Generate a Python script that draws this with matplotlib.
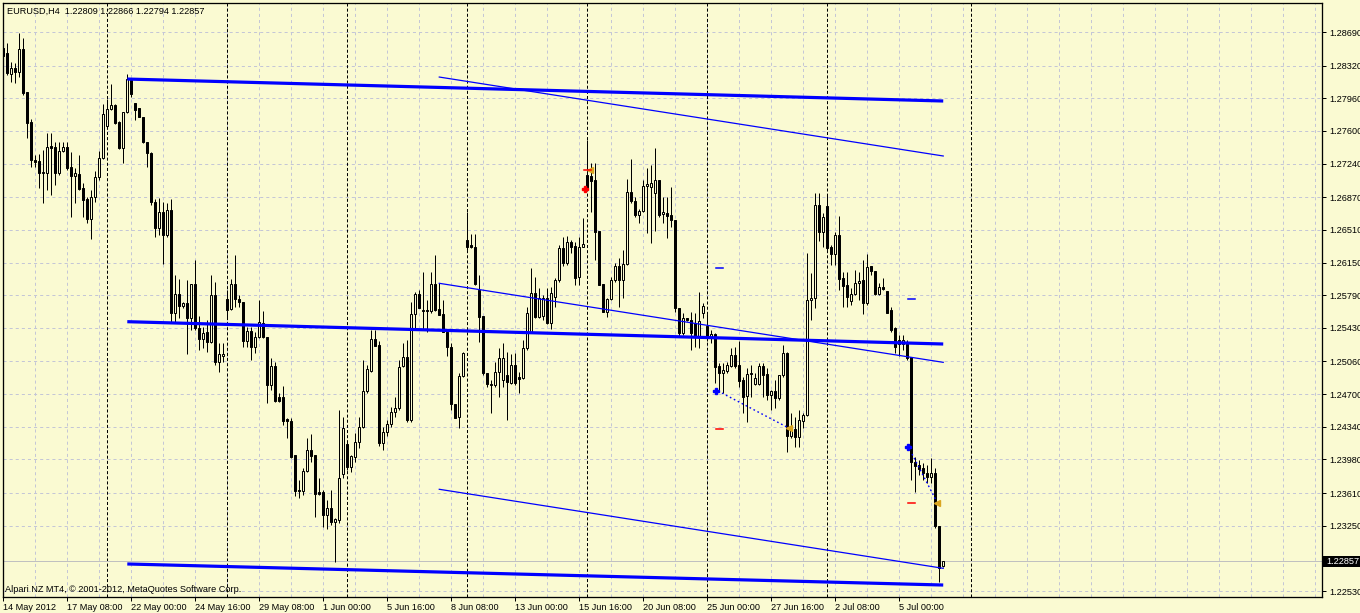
import matplotlib
matplotlib.use("Agg")
import matplotlib.pyplot as plt
import numpy as np
from matplotlib.patches import Rectangle

plt.rcParams['lines.scale_dashes'] = False
plt.rcParams['font.family'] = ['Liberation Sans', 'DejaVu Sans']

# ---------------- data (EURUSD H4) ----------------
opens = [
    1.2851, 1.2846, 1.2823, 1.2829, 1.2825, 1.2850, 1.2803, 1.2770, 1.2728, 1.2727,
    1.2714, 1.2714, 1.2743, 1.2742, 1.2714, 1.2738, 1.2742, 1.2720, 1.2710, 1.2713,
    1.2697, 1.2685, 1.2663, 1.2687, 1.2709, 1.2730, 1.2766, 1.2784, 1.2789, 1.2770,
    1.2741, 1.2781, 1.2816, 1.2791, 1.2785, 1.2775, 1.2748, 1.2736, 1.2682, 1.2653,
    1.2671, 1.2645, 1.2673, 1.2559, 1.2580, 1.2567, 1.2570, 1.2554, 1.2591, 1.2543,
    1.2531, 1.2538, 1.2527, 1.2579, 1.2505, 1.2512, 1.2575, 1.2564, 1.2591, 1.2575,
    1.2572, 1.2528, 1.2539, 1.2522, 1.2533, 1.2548, 1.2533, 1.2480, 1.2501, 1.2467,
    1.2467, 1.2443, 1.2440, 1.2403, 1.2364, 1.2363, 1.2385, 1.2408, 1.2403, 1.2362,
    1.2362, 1.2337, 1.2344, 1.2329, 1.2331, 1.2382, 1.2415, 1.2390, 1.2401, 1.2417,
    1.2434, 1.2473, 1.2495, 1.2531, 1.2524, 1.2416, 1.2428, 1.2437, 1.2450, 1.2455,
    1.2501, 1.2511, 1.2441, 1.2558, 1.2580, 1.2562, 1.2563, 1.2562, 1.2591, 1.2564,
    1.2558, 1.2538, 1.2522, 1.2459, 1.2445, 1.2490, 1.2640, 1.2634, 1.2632, 1.2585,
    1.2556, 1.2493, 1.2480, 1.2480, 1.2494, 1.2485, 1.2491, 1.2482, 1.2502, 1.2489,
    1.2488, 1.2521, 1.2538, 1.2581, 1.2555, 1.2556, 1.2576, 1.2548, 1.2577, 1.2596,
    1.2631, 1.2614, 1.2638, 1.2633, 1.2599, 1.2632, 1.2711, 1.2710, 1.2706, 1.2650,
    1.2591, 1.2560, 1.2575, 1.2596, 1.2611, 1.2596, 1.2613, 1.2693, 1.2683, 1.2667,
    1.2672, 1.2699, 1.2698, 1.2692, 1.2706, 1.2668, 1.2670, 1.2667, 1.2662, 1.2565,
    1.2537, 1.2554, 1.2552, 1.2548, 1.2533, 1.2559, 1.2545, 1.2532, 1.2536, 1.2501,
    1.2493, 1.2495, 1.2501, 1.2513, 1.2502, 1.2486, 1.2468, 1.2492, 1.2481, 1.2481,
    1.2501, 1.2492, 1.2469, 1.2473, 1.2466, 1.2491, 1.2515, 1.2424, 1.2431, 1.2423,
    1.2440, 1.2447, 1.2574, 1.2576, 1.2678, 1.2649, 1.2677, 1.2632, 1.2624, 1.2645,
    1.2598, 1.2590, 1.2573, 1.2580, 1.2592, 1.2596, 1.2570, 1.2611, 1.2606, 1.2580,
    1.2588, 1.2584, 1.2563, 1.2543, 1.2530, 1.2525, 1.2526, 1.2511, 1.2395, 1.2392,
    1.2389, 1.2383, 1.2379, 1.2383, 1.2325, 1.22809]

highs = [
    1.2856, 1.2857, 1.2836, 1.2835, 1.2868, 1.2862, 1.2803, 1.2773, 1.2734, 1.2735,
    1.2739, 1.2758, 1.2758, 1.2748, 1.2748, 1.2748, 1.2748, 1.2737, 1.2719, 1.2734,
    1.2703, 1.2687, 1.2695, 1.2716, 1.2738, 1.2790, 1.2795, 1.2812, 1.2790, 1.2771,
    1.2781, 1.2823, 1.2818, 1.2791, 1.2785, 1.2775, 1.2748, 1.2737, 1.2685, 1.2686,
    1.2682, 1.2681, 1.2685, 1.2601, 1.2597, 1.2572, 1.2596, 1.2591, 1.2618, 1.2556,
    1.2544, 1.2552, 1.2601, 1.2594, 1.2526, 1.2526, 1.2585, 1.2597, 1.2623, 1.2579,
    1.2572, 1.2544, 1.2544, 1.2538, 1.2574, 1.2562, 1.2533, 1.2510, 1.2505, 1.2471,
    1.2479, 1.2444, 1.2444, 1.2403, 1.2375, 1.2389, 1.2422, 1.2426, 1.2403, 1.2377,
    1.2364, 1.2353, 1.2364, 1.2333, 1.2453, 1.2445, 1.2419, 1.2403, 1.2427, 1.2445,
    1.2508, 1.2502, 1.2541, 1.2541, 1.2528, 1.2434, 1.2441, 1.2456, 1.2467, 1.2508,
    1.2526, 1.2530, 1.2572, 1.2582, 1.2585, 1.2605, 1.2574, 1.2605, 1.2623, 1.2592,
    1.2574, 1.2538, 1.2526, 1.2459, 1.2493, 1.2516, 1.2671, 1.2646, 1.2646, 1.2601,
    1.2556, 1.2493, 1.2485, 1.2505, 1.2521, 1.2526, 1.2516, 1.2514, 1.2515, 1.2494,
    1.2530, 1.2566, 1.2609, 1.2599, 1.2587, 1.2579, 1.2587, 1.2588, 1.2598, 1.2634,
    1.2643, 1.2644, 1.2640, 1.2638, 1.2643, 1.2664, 1.2750, 1.2725, 1.2725, 1.2650,
    1.2591, 1.2576, 1.2599, 1.2614, 1.2620, 1.2629, 1.2707, 1.2729, 1.2687, 1.2674,
    1.2706, 1.2719, 1.2722, 1.2741, 1.2706, 1.2687, 1.2687, 1.2698, 1.2662, 1.2565,
    1.2559, 1.2554, 1.2560, 1.2559, 1.2582, 1.2570, 1.2558, 1.2541, 1.2537, 1.2504,
    1.2504, 1.2505, 1.2521, 1.2522, 1.2528, 1.2489, 1.2499, 1.2502, 1.2493, 1.2504,
    1.2504, 1.2499, 1.2474, 1.2485, 1.2491, 1.2524, 1.2516, 1.2449, 1.2445, 1.2452,
    1.2449, 1.2625, 1.2603, 1.2692, 1.2692, 1.2670, 1.2689, 1.2634, 1.2649, 1.2666,
    1.2605, 1.2605, 1.2587, 1.2607, 1.2605, 1.2618, 1.2624, 1.2611, 1.2606, 1.2592,
    1.2598, 1.2584, 1.2566, 1.2544, 1.2535, 1.2535, 1.2530, 1.2511, 1.2401, 1.2397,
    1.2394, 1.2392, 1.2400, 1.2389, 1.2325, 1.22866]

lows = [
    1.2838, 1.2822, 1.2814, 1.2813, 1.2819, 1.2800, 1.2752, 1.2720, 1.2720, 1.2697,
    1.2681, 1.2695, 1.2689, 1.2700, 1.2711, 1.2737, 1.2717, 1.2665, 1.2681, 1.2695,
    1.2665, 1.2659, 1.2641, 1.2682, 1.2706, 1.2729, 1.2763, 1.2783, 1.2768, 1.2740,
    1.2725, 1.2780, 1.2797, 1.2772, 1.2775, 1.2747, 1.2720, 1.2678, 1.2643, 1.2645,
    1.2613, 1.2643, 1.2548, 1.2548, 1.2554, 1.2565, 1.2514, 1.2541, 1.2541, 1.2519,
    1.2521, 1.2516, 1.2526, 1.2502, 1.2494, 1.2505, 1.2555, 1.2563, 1.2566, 1.2566,
    1.2522, 1.2522, 1.2508, 1.2515, 1.2532, 1.2532, 1.2460, 1.2474, 1.2461, 1.2461,
    1.2436, 1.2422, 1.2400, 1.2358, 1.2355, 1.2359, 1.2384, 1.2395, 1.2335, 1.2359,
    1.2323, 1.2321, 1.2326, 1.2285, 1.2328, 1.2377, 1.2386, 1.2384, 1.2395, 1.2411,
    1.2433, 1.2471, 1.2494, 1.2523, 1.2413, 1.2408, 1.2424, 1.2434, 1.2445, 1.2452,
    1.2500, 1.2439, 1.2439, 1.2542, 1.2565, 1.2541, 1.2538, 1.2559, 1.2562, 1.2557,
    1.2538, 1.2512, 1.2452, 1.2444, 1.2433, 1.2489, 1.2629, 1.2631, 1.2590, 1.2527,
    1.2491, 1.2478, 1.2449, 1.2478, 1.2467, 1.2478, 1.2441, 1.2481, 1.2480, 1.2471,
    1.2487, 1.2519, 1.2537, 1.2554, 1.2554, 1.2552, 1.2547, 1.2542, 1.2566, 1.2594,
    1.2611, 1.2612, 1.2625, 1.2590, 1.2590, 1.2632, 1.2695, 1.2671, 1.2618, 1.2590,
    1.2560, 1.2555, 1.2574, 1.2594, 1.2566, 1.2576, 1.2612, 1.2681, 1.2665, 1.2659,
    1.2671, 1.2647, 1.2636, 1.2650, 1.2665, 1.2659, 1.2642, 1.2654, 1.2560, 1.2533,
    1.2535, 1.2551, 1.2519, 1.2522, 1.2521, 1.2554, 1.2528, 1.2526, 1.2482, 1.2474,
    1.2471, 1.2493, 1.2500, 1.2499, 1.2478, 1.2449, 1.2439, 1.2467, 1.2480, 1.2480,
    1.2467, 1.2463, 1.2452, 1.2455, 1.2463, 1.2489, 1.2406, 1.2422, 1.2412, 1.2412,
    1.2433, 1.2446, 1.2552, 1.2565, 1.2639, 1.2632, 1.2629, 1.2612, 1.2612, 1.2585,
    1.2566, 1.2566, 1.2568, 1.2579, 1.2574, 1.2558, 1.2568, 1.2601, 1.2579, 1.2579,
    1.2585, 1.2559, 1.2538, 1.2515, 1.2512, 1.2519, 1.2508, 1.2375, 1.2362, 1.2381,
    1.2375, 1.2372, 1.2372, 1.2322, 1.2263, 1.22794]

closes = [
    1.2843, 1.2824, 1.2829, 1.2825, 1.2850, 1.2802, 1.2769, 1.2728, 1.2726, 1.2714,
    1.2715, 1.2742, 1.2741, 1.2714, 1.2738, 1.2742, 1.2719, 1.2710, 1.2714, 1.2696,
    1.2684, 1.2663, 1.2687, 1.2709, 1.2730, 1.2779, 1.2784, 1.2789, 1.2769, 1.2741,
    1.2781, 1.2817, 1.2801, 1.2783, 1.2775, 1.2748, 1.2736, 1.2682, 1.2653, 1.2671,
    1.2645, 1.2673, 1.2559, 1.2580, 1.2567, 1.2570, 1.2554, 1.2591, 1.2543, 1.2531,
    1.2537, 1.2527, 1.2579, 1.2505, 1.2514, 1.2514, 1.2563, 1.2591, 1.2575, 1.2572,
    1.2528, 1.2539, 1.2522, 1.2533, 1.2549, 1.2533, 1.2480, 1.2501, 1.2462, 1.2462,
    1.2440, 1.2440, 1.2401, 1.2363, 1.2363, 1.2385, 1.2408, 1.2402, 1.2360, 1.2360,
    1.2337, 1.2344, 1.2329, 1.2332, 1.2377, 1.2433, 1.2390, 1.2402, 1.2417, 1.2434,
    1.2473, 1.2498, 1.2531, 1.2523, 1.2416, 1.2428, 1.2437, 1.2450, 1.2455, 1.2500,
    1.2511, 1.2441, 1.2558, 1.2580, 1.2565, 1.2563, 1.2562, 1.2591, 1.2563, 1.2557,
    1.2538, 1.2522, 1.2459, 1.2444, 1.2490, 1.2515, 1.2632, 1.2632, 1.2591, 1.2555,
    1.2493, 1.2481, 1.2481, 1.2494, 1.2510, 1.2510, 1.2483, 1.2502, 1.2482, 1.2487,
    1.2521, 1.2559, 1.2581, 1.2555, 1.2576, 1.2576, 1.2548, 1.2581, 1.2596, 1.2631,
    1.2614, 1.2638, 1.2632, 1.2598, 1.2632, 1.2635, 1.2697, 1.2705, 1.2649, 1.2590,
    1.2560, 1.2575, 1.2596, 1.2611, 1.2596, 1.2613, 1.2693, 1.2683, 1.2667, 1.2672,
    1.2699, 1.2701, 1.2703, 1.2706, 1.2667, 1.2671, 1.2666, 1.2662, 1.2565, 1.2537,
    1.2554, 1.2552, 1.2537, 1.2533, 1.2551, 1.2567, 1.2532, 1.2536, 1.2500, 1.2493,
    1.2497, 1.2502, 1.2513, 1.2501, 1.2484, 1.2467, 1.2492, 1.2493, 1.2488, 1.2501,
    1.2491, 1.2469, 1.2473, 1.2466, 1.2491, 1.2515, 1.2424, 1.2434, 1.2423, 1.2441,
    1.2447, 1.2574, 1.2576, 1.2678, 1.2649, 1.2665, 1.2631, 1.2624, 1.2645, 1.2597,
    1.2589, 1.2577, 1.2580, 1.2592, 1.2595, 1.2570, 1.2610, 1.2606, 1.2580, 1.2588,
    1.2586, 1.2559, 1.2541, 1.2522, 1.2525, 1.2530, 1.2510, 1.2395, 1.2391, 1.2387,
    1.2383, 1.2379, 1.2383, 1.2325, 1.2278, 1.22857]

time_labels = ["14 May 2012", "17 May 08:00", "22 May 00:00", "24 May 16:00",
               "29 May 08:00", "1 Jun 00:00", "5 Jun 16:00", "8 Jun 08:00",
               "13 Jun 00:00", "15 Jun 16:00", "20 Jun 08:00", "25 Jun 00:00",
               "27 Jun 16:00", "2 Jul 08:00", "5 Jul 00:00"]
price_ticks = [1.28690, 1.28320, 1.27960, 1.27600, 1.27240, 1.26870, 1.26510,
               1.26150, 1.25790, 1.25430, 1.25060, 1.24700, 1.24340, 1.23980,
               1.23610, 1.23250, 1.22530]
week_start_bars = [26, 56, 86, 116, 146, 176, 206, 242]

# regression channel (thick) and parallel channel (thin): [bar0, bar1], [price0, price1]
thick_bars = [31, 235]
thick_top = [1.28172, 1.27930]
thick_mid = [1.25498, 1.25252]
thick_bot = [1.22828, 1.22596]
thin_bars = [109, 235]
thin_top = [1.28194, 1.27324]
thin_mid = [1.25921, 1.25050]
thin_bot = [1.23651, 1.22780]

# indicator marks
stars_blue_x = [178.2, 226.2]
stars_blue_y = [1.24734, 1.24117]
star_red_x = [145.4]
star_red_y = [1.26960]
tri_x = [196.4, 233.4, 146.8]
tri_y = [1.24326, 1.23500, 1.27170]
dash_blue_x = [179.0, 227.0]
dash_blue_y = [1.26090, 1.25748]
dash_red_x = [179.0, 227.0, 146.0]
dash_red_y = [1.24315, 1.23500, 1.27170]
dotted_segments = [([178.7, 196.4], [1.24734, 1.24326]),
                   ([227.2, 233.2], [1.24040, 1.23530])]

bid = 1.22857

# ---------------- styling ----------------
BG = '#FAFAD2'
GRID = '#C4C6D6'
PX = 0.72  # one pixel in points at dpi 100
FS = 6.6

fig = plt.figure(figsize=(13.6, 6.13), dpi=100, facecolor=BG)
W, H = 1360, 613
ax = fig.add_axes([2.7 / W, 16 / H, (1322 - 2.7) / W, (597 - 3) / H], facecolor=BG)

ax.set_xlim(-0.15, 329.7)
ax.set_ylim(1.22464, 1.29010)

# grid
for p in price_ticks:
    ax.axhline(p, color=GRID, lw=PX, ls=(0, (2.2, 2.2)), zorder=0)
for b in range(0, 330, 8):
    ax.axvline(b, color=GRID, lw=PX, ls=(0, (2.2, 2.2)), zorder=0)
for b in week_start_bars:
    ax.axvline(b, color='black', lw=PX, ls=(0, (2.2, 1.5)), zorder=1)

# bid line
ax.axhline(bid, color='#C0C0C0', lw=PX, zorder=1)

# candles
o = np.array(opens); h = np.array(highs); l = np.array(lows); c = np.array(closes)
idx = np.arange(len(o))
up = c >= o
ax.vlines(idx, np.minimum(l, np.minimum(o, c)), np.maximum(h, np.maximum(o, c)),
          color='black', lw=PX, zorder=3)
ax.bar(idx, np.abs(c - o), width=0.5, bottom=np.minimum(o, c),
       color=[BG if u else 'black' for u in up], edgecolor='black',
       linewidth=PX, zorder=4)

# channels
for ys in (thick_top, thick_mid, thick_bot):
    ax.plot(thick_bars, ys, color='#0000FF', lw=2.3, solid_capstyle='butt', zorder=5)
for ys in (thin_top, thin_mid, thin_bot):
    ax.plot(thin_bars, ys, color='#0000FF', lw=0.9, zorder=5)

# indicator marks
for xs, ys in dotted_segments:
    ax.plot(xs, ys, color='#0000FF', lw=1.0, ls=(0, (1.2, 2.0)), zorder=6)
ax.plot(stars_blue_x, stars_blue_y, ls='none', marker='P', ms=5, color='#0000FF', zorder=7)
ax.plot(star_red_x, star_red_y, ls='none', marker='P', ms=5, color='#FF0000', zorder=7)
ax.plot(tri_x, tri_y, ls='none', marker='<', ms=4.5, color='#DAA520', zorder=7)
for x, y in zip(dash_blue_x, dash_blue_y):
    ax.plot([x - 0.9, x + 0.9], [y, y], color='#0000FF', lw=1.1, zorder=7)
for x, y in zip(dash_red_x, dash_red_y):
    ax.plot([x - 0.9, x + 0.9], [y, y], color='#FF0000', lw=1.1, zorder=7)

# axes / ticks
for s in ax.spines.values():
    s.set_color('black'); s.set_linewidth(PX * 1.3)
ax.yaxis.tick_right()
ax.set_yticks(price_ticks)
ax.set_yticklabels([f"{p:.5f}" for p in price_ticks])
ax.tick_params(axis='y', direction='out', length=3, width=PX, pad=2, labelsize=FS, colors='black')
ax.set_xticks(list(range(0, 16 * len(time_labels), 16)))
ax.set_xticklabels(time_labels)
ax.tick_params(axis='x', direction='out', length=3, width=PX, pad=1, labelsize=FS, colors='black')
for lbl in ax.get_xticklabels():
    lbl.set_horizontalalignment('left')

# texts
fig.text(7 / W, 1 - 11.5 / H, "EURUSD,H4  1.22809 1.22866 1.22794 1.22857",
         fontsize=FS, va='center', ha='left', color='black')
fig.text(5 / W, 1 - 589 / H, "Alpari NZ MT4, \u00a9 2001-2012, MetaQuotes Software Corp.",
         fontsize=FS, va='center', ha='left', color='black')

# bid price tag
fig.patches.append(Rectangle((1322 / W, 1 - 567 / H), 38 / W, 11 / H,
                             transform=fig.transFigure, facecolor='black',
                             edgecolor='none', zorder=10))
fig.text(1326 / W, 1 - 561.5 / H, f"{bid:.5f}", fontsize=FS, va='center', ha='left',
         color='white', zorder=11)

fig.savefig("out.png", dpi=100, facecolor=BG)
